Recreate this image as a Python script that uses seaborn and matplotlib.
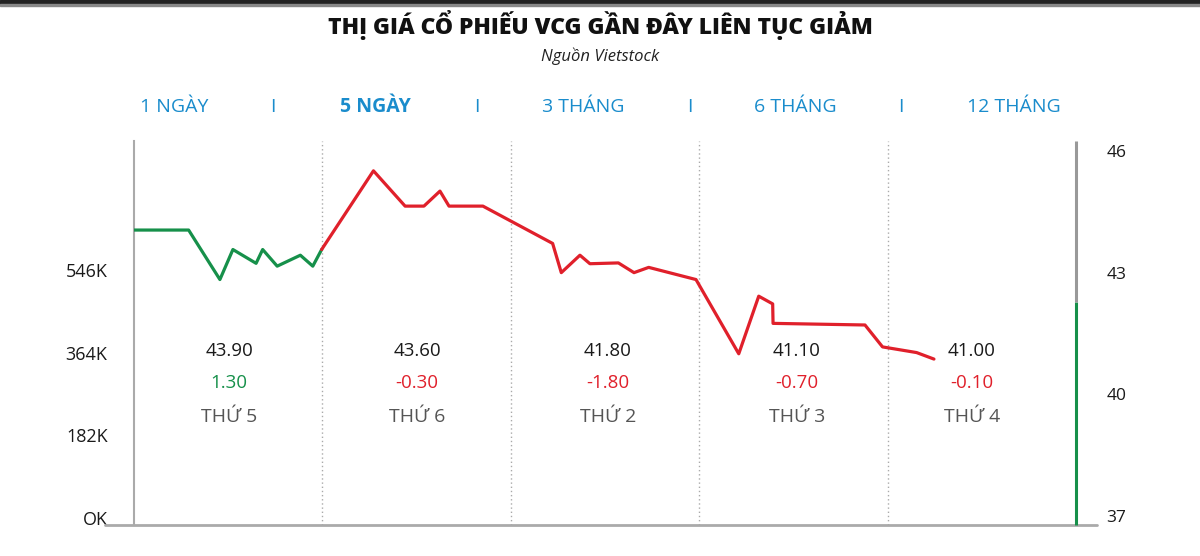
import matplotlib
matplotlib.use("Agg")
import matplotlib.pyplot as plt
import matplotlib.transforms as mtransforms
from matplotlib.patches import Rectangle
import seaborn as sns
import pandas as pd

# Data
tabs = ['1 NGÀY', 'I', '5 NGÀY', 'I', '3 THÁNG', 'I', '6 THÁNG', 'I', '12 THÁNG']
days = ['THỨ 5', 'THỨ 6', 'THỨ 2', 'THỨ 3', 'THỨ 4']
close_prices = ['43.90', '43.60', '41.80', '41.10', '41.00']
changes = ['1.30', '-0.30', '-1.80', '-0.70', '-0.10']

# intraday price path, x in trading-day units (0..5)
green_x = [0.0, 0.290, 0.456, 0.525, 0.648, 0.683, 0.760, 0.883, 0.949, 0.996]
green_p = [44.05, 44.05, 42.83, 43.57, 43.23, 43.57, 43.16, 43.43, 43.16, 43.57]
red_x = [0.996, 1.271, 1.439, 1.539, 1.624, 1.672, 1.852, 2.222, 2.268, 2.367,
         2.420, 2.571, 2.654, 2.732, 2.983, 3.210, 3.316, 3.390, 3.392, 3.880,
         3.973, 4.154, 4.246]
red_p = [43.57, 45.51, 44.64, 44.64, 45.01, 44.64, 44.64, 43.72, 43.00, 43.43,
         43.22, 43.24, 43.00, 43.13, 42.83, 41.00, 42.42, 42.23, 41.75, 41.71,
         41.17, 41.03, 40.87]

vol_ticks = [0, 182, 364, 546]
vol_labels = ['OK', '182K', '364K', '546K']
price_ticks = [37, 40, 43, 46]
current_volume = 475  # K, green bar on the right edge

GREEN = '#16904a'
RED = '#e0202b'
BLUE = '#1a8ccc'
GRAY = '#aaaaaa'

sns.set_theme(style="white")
plt.rcParams['font.family'] = ['Open Sans', 'DejaVu Sans']

fig = plt.figure(figsize=(12, 5.56), dpi=100)
ax = fig.add_axes([134 / 1200, 1 - 525 / 556, 942 / 1200, 384 / 556])
ax2 = ax.twinx()

# volume axis (left)
ax.set_xlim(0, 5)
ax.set_ylim(-15.4, 829.7)
ax.set_yticks(vol_ticks)
ax.set_yticklabels(vol_labels)
ax.set_xticks([])
ax.tick_params(axis='y', length=0, pad=19, labelsize=13, labelcolor='#1a1a1a')

# price axis (right)
ax2.set_ylim(36.78, 46.245)
ax2.set_yticks(price_ticks)
ax2.tick_params(axis='y', length=0, pad=22, labelsize=12.5, labelcolor='#1a1a1a')

for a in (ax, ax2):
    for s in a.spines.values():
        s.set_visible(False)
ax.spines['left'].set_visible(True)
ax.spines['left'].set_color(GRAY)
ax.spines['left'].set_linewidth(1.5)

# dotted day dividers
for d in range(1, 5):
    ax.axvline(d, color=GRAY, lw=1, ls=(0, (1, 2)), zorder=1)

# bottom base line extends past the plot
ax.axhline(-15.4, xmin=-0.031, xmax=1.022, color=GRAY, lw=2, clip_on=False, zorder=3)

# right edge: volume bar (green) + gray remainder
ax.vlines(5, -15.4, current_volume, color=GREEN, lw=2.2, clip_on=False, zorder=4)
ax.vlines(5, current_volume, 829.7, color='#999999', lw=2.2, clip_on=False, zorder=4)

# price line
sns.lineplot(x=green_x, y=green_p, ax=ax2, color=GREEN, lw=2.3, sort=False,
             estimator=None)
sns.lineplot(x=red_x, y=red_p, ax=ax2, color=RED, lw=2.3, sort=False,
             estimator=None)
ax2.set_xlim(0, 5)

# daily summary text
trans = mtransforms.blended_transform_factory(ax.transData, fig.transFigure)
text_x = [0.505, 1.502, 2.516, 3.519, 4.448]
for x, cp, ch, dname in zip(text_x, close_prices, changes, days):
    ax.text(x, 1 - 351 / 556, cp, transform=trans, ha='center', va='center',
            fontsize=13.5, color='#1a1a1a')
    ax.text(x, 1 - 383 / 556, ch, transform=trans, ha='center', va='center',
            fontsize=13.5, color=GREEN if not ch.startswith('-') else RED)
    ax.text(x, 1 - 417 / 556, dname, transform=trans, ha='center', va='center',
            fontsize=14, color='#555555')

# period tabs
tab_x = [174, 273, 375, 477, 583, 690, 795, 901, 1014]
for t, x in zip(tabs, tab_x):
    fig.text(x / 1200, 1 - 107 / 556, t, ha='center', va='center', fontsize=14,
             color=BLUE, fontweight='bold' if t == '5 NGÀY' else 'normal')

# top dark band
fig.add_artist(Rectangle((0, 1 - 4 / 556), 1, 4 / 556, transform=fig.transFigure,
                         color='#222222', zorder=10))
fig.add_artist(Rectangle((0, 1 - 6 / 556), 1, 2 / 556, transform=fig.transFigure,
                         color='#888888', zorder=10))

fig.text(0.5, 1 - 25 / 556, 'THỊ GIÁ CỔ PHIẾU VCG GẦN ĐÂY LIÊN TỤC GIẢM',
         ha='center', va='center', fontsize=16.5, fontweight='heavy', color='#111111')
fig.text(0.5, 1 - 56 / 556, 'Nguồn Vietstock', ha='center', va='center',
         fontsize=12, style='italic', color='#222222')

fig.savefig('out.png', dpi=100)
